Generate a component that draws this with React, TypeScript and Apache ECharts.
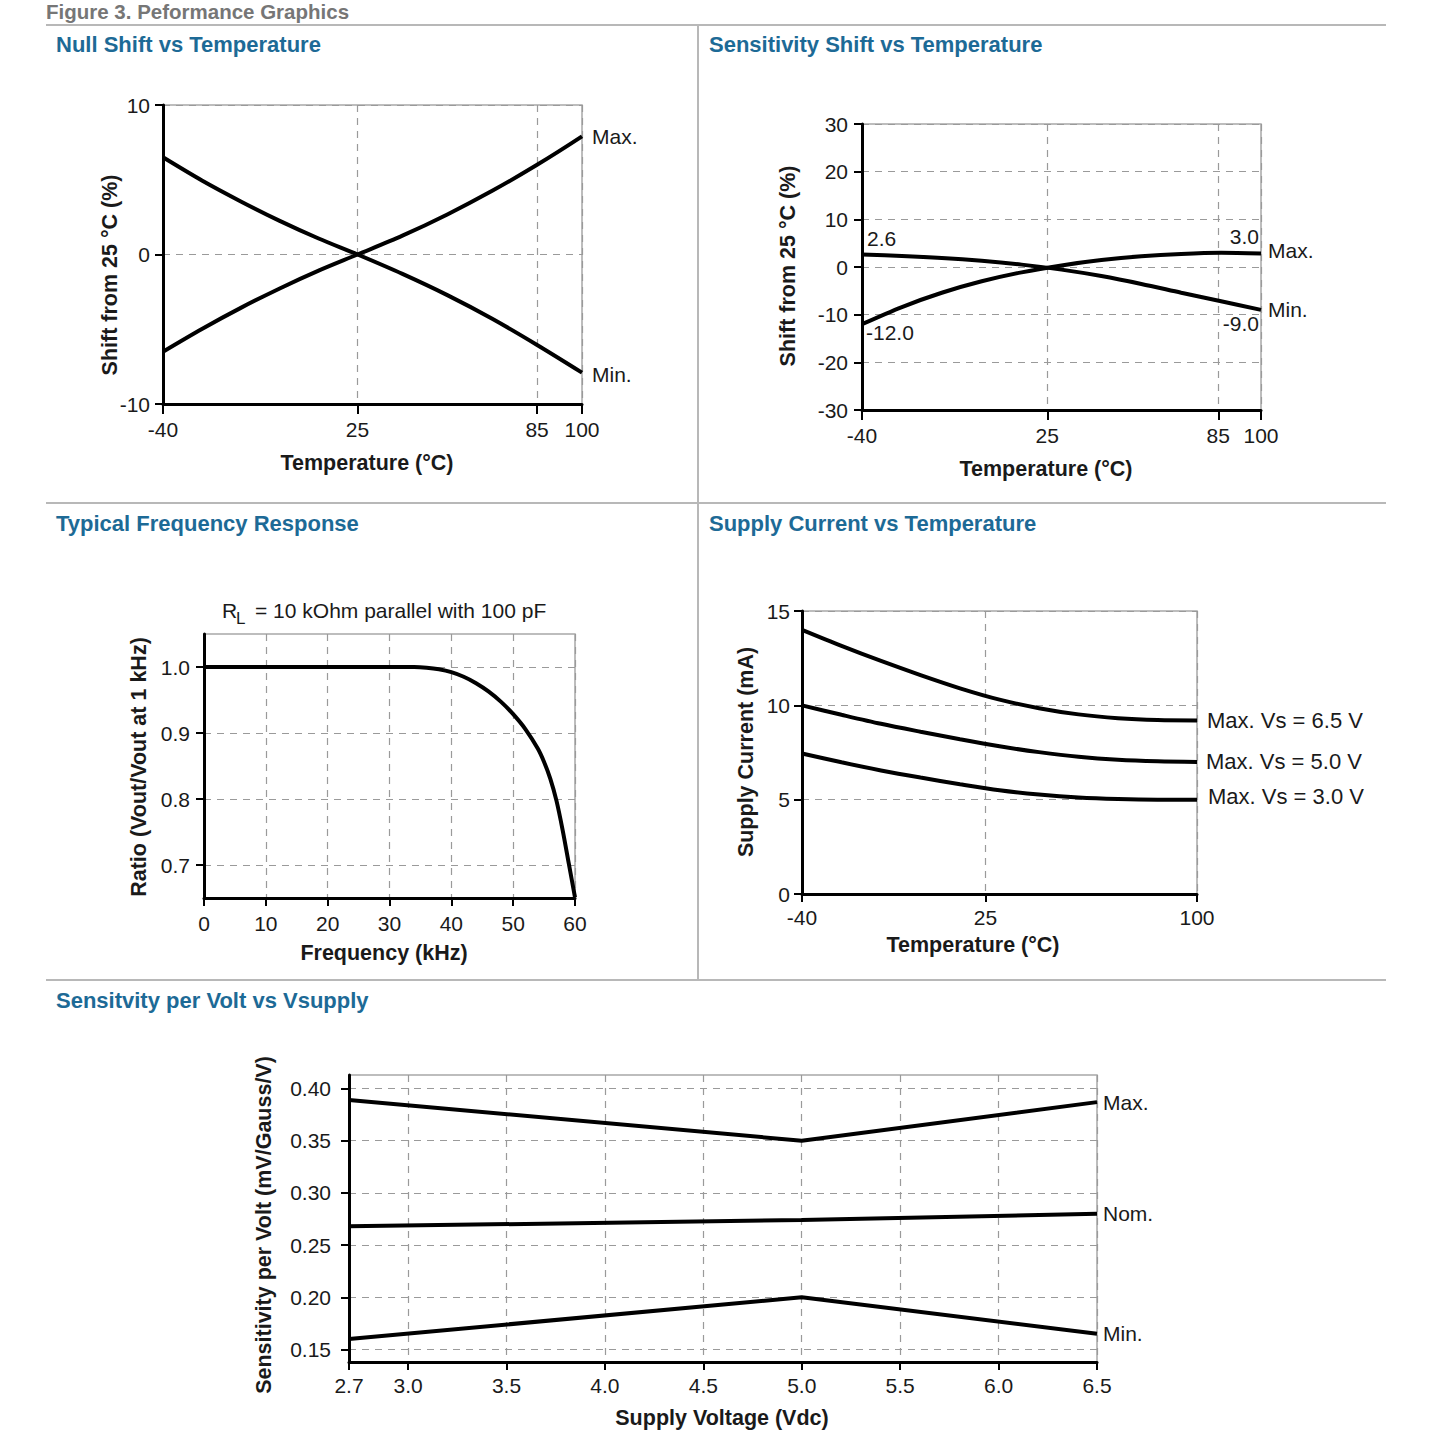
import React, { useEffect, useRef } from "react";
import * as echarts from "echarts";

const FONT = '"Liberation Sans", Arial, Helvetica, sans-serif';
const TXT = "#1a1a1a";
const BLUE = "#1d6a96";

// Panel 1: Null shift vs temperature
const nullTickX = [-40, 25, 85, 100];
const nullTickY = [-10, 0, 10];
const nullT = [-40, -27, -14, -1, 12, 25, 40, 55, 70, 85, 100];
const nullMax = [-6.5, -4.98, -3.57, -2.27, -1.08, 0, 1.26, 2.68, 4.26, 6.0, 7.9];
const nullMin = [6.5, 4.95, 3.55, 2.25, 1.07, 0, -1.3, -2.72, -4.3, -6.05, -7.9];

// Panel 2: Sensitivity shift vs temperature
const sensTickX = [-40, 25, 85, 100];
const sensTickY = [-30, -20, -10, 0, 10, 20, 30];
const sensT = [-40, -26, -12, 2, 16, 30, 44, 58, 72, 86, 100];
const sensMax = [-12.0, -8.4, -5.4, -3.0, -1.12, 0.33, 1.45, 2.25, 2.75, 2.99, 2.85];
const sensMin = [2.6, 2.32, 1.9, 1.3, 0.5, -0.55, -1.9, -3.55, -5.4, -7.2, -9.0];

// Panel 3: Typical frequency response
const freqTickX = [0, 10, 20, 30, 40, 50, 60];
const freqTickY = [0.7, 0.8, 0.9, 1.0];
const freqX = [0, 10, 20, 26, 30, 32, 34, 36, 38, 40, 42, 44, 46, 48, 50, 52, 54, 55, 56, 57, 58, 59, 60];
const freqY = [
  1, 1, 1, 1, 1, 1, 1.0, 0.999, 0.9966, 0.9922, 0.9852, 0.9755, 0.963, 0.9475, 0.9285, 0.9055, 0.876,
  0.856, 0.831, 0.7975, 0.753, 0.702, 0.651,
];

// Panel 4: Supply current vs temperature
const supTickX = [-40, 25, 100];
const supTickY = [0, 5, 10, 15];
const supT = [-40, -26, -12, 2, 16, 30, 44, 58, 72, 86, 100];
const sup65 = [14.0, 13.15, 12.35, 11.6, 10.9, 10.3, 9.85, 9.52, 9.32, 9.22, 9.2];
const sup50 = [10.0, 9.5, 9.02, 8.6, 8.2, 7.83, 7.52, 7.27, 7.11, 7.03, 7.0];
const sup30 = [7.45, 6.98, 6.55, 6.17, 5.82, 5.5, 5.27, 5.11, 5.03, 5.0, 5.0];

// Panel 5: Sensitivity per volt vs Vsupply
const voltTickX = [2.7, 3.0, 3.5, 4.0, 4.5, 5.0, 5.5, 6.0, 6.5];
const voltTickY = [0.15, 0.2, 0.25, 0.3, 0.35, 0.4];
const voltX = [2.7, 5.0, 6.5];
const voltMax = [0.389, 0.35, 0.387];
const voltNom = [0.268, 0.274, 0.28];
const voltMin = [0.16, 0.2, 0.165];

const pairs = (xs: number[], ys: number[]) => xs.map((x, i) => [x, ys[i]]);

function axis(
  gridIndex: number,
  min: number,
  max: number,
  ticks: number[],
  fmt: (v: number) => string,
  margin: number,
  tickLen: number
) {
  return {
    type: "value",
    gridIndex,
    min,
    max,
    axisLine: { show: true, onZero: false, lineStyle: { color: "#000", width: 3 } },
    axisTick: { show: true, customValues: ticks, length: tickLen, lineStyle: { color: "#000", width: 2 } },
    axisLabel: {
      show: true,
      customValues: ticks,
      formatter: fmt,
      margin,
      fontSize: 21,
      color: TXT,
      fontFamily: FONT,
    },
    splitLine: { show: true, lineStyle: { color: "#9a9a9a", width: 1.2, type: [7, 6] } },
  };
}

const intFmt = (v: number) => String(Math.round(v));
const f1 = (v: number) => v.toFixed(1);
const f2 = (v: number) => v.toFixed(2);

function grid(left: number, top: number, width: number, height: number) {
  return {
    left,
    top,
    width,
    height,
    show: true,
    borderColor: "#a8a8a8",
    borderWidth: 1.5,
    backgroundColor: "transparent",
    containLabel: false,
    outerBoundsMode: "none",
  };
}

function line(xi: number, data: number[][], label: string, smooth: number | boolean, extra: any = {}) {
  return {
    type: "line",
    xAxisIndex: xi,
    yAxisIndex: xi,
    data,
    smooth,
    showSymbol: false,
    silent: true,
    lineStyle: { color: "#000", width: 4 },
    endLabel: {
      show: label !== "",
      formatter: label,
      distance: 10,
      fontSize: 21,
      color: TXT,
      fontFamily: FONT,
      ...(extra.endLabel || {}),
    },
    ...(extra.series || {}),
  };
}

function text(x: number, y: number, s: string, o: any = {}) {
  const align = o.align || "left";
  return {
    type: "text",
    x,
    y,
    rotation: o.rotation || 0,
    style: {
      text: s,
      fontSize: o.fontSize || 21,
      fontWeight: o.fontWeight || "normal",
      fontFamily: FONT,
      fill: o.fill || TXT,
      align,
      textAlign: align,
      verticalAlign: "middle",
      textVerticalAlign: "middle",
    },
  };
}

function sep(x1: number, y1: number, x2: number, y2: number) {
  return { type: "line", shape: { x1, y1, x2, y2 }, style: { stroke: "#b8b8b8", lineWidth: 2 } };
}

export default function App() {
  const ref = useRef<HTMLDivElement>(null);
  useEffect(() => {
    if (!ref.current) return;
    const chart = echarts.init(ref.current, null, { renderer: "svg" });
    const titleO = { fontSize: 22, fontWeight: "bold", fill: BLUE };
    const axO = { fontSize: 21.5, fontWeight: "bold" };
    const rot = Math.PI / 2;
    chart.setOption({
      animation: false,
      backgroundColor: "#fff",
      grid: [
        grid(163, 105, 419, 299),
        grid(862, 124, 399, 286),
        grid(204, 634, 371, 264),
        grid(802, 611, 395, 283),
        grid(349, 1075, 748, 287),
      ],
      xAxis: [
        axis(0, -40, 100, nullTickX, intFmt, 15, 10),
        axis(1, -40, 100, sensTickX, intFmt, 15, 10),
        axis(2, 0, 60, freqTickX, intFmt, 15, 8),
        axis(3, -40, 100, supTickX, intFmt, 13, 8),
        axis(4, 2.7, 6.5, voltTickX, f1, 13, 8),
      ],
      yAxis: [
        axis(0, -10, 10, nullTickY, intFmt, 13, 8),
        axis(1, -30, 30, sensTickY, intFmt, 14, 8),
        axis(2, 0.65, 1.05, freqTickY, f1, 14, 8),
        axis(3, 0, 15, supTickY, intFmt, 12, 8),
        axis(4, 0.138, 0.413, voltTickY, f2, 18, 8),
      ],
      series: [
        line(0, pairs(nullT, nullMax), "Max.", 0.3),
        line(0, pairs(nullT, nullMin), "Min.", 0.3, { endLabel: { offset: [0, 2] } }),
        line(1, pairs(sensT, sensMax), "Max.", 0.3, { endLabel: { distance: 7, offset: [0, -3] } }),
        line(1, pairs(sensT, sensMin), "Min.", 0.3, { endLabel: { distance: 7 } }),
        line(2, pairs(freqX, freqY), "", 0.3),
        line(3, pairs(supT, sup65), "Max. Vs = 6.5 V", 0.3, { endLabel: { fontSize: 22 } }),
        line(3, pairs(supT, sup50), "Max. Vs = 5.0 V", 0.3, { endLabel: { fontSize: 22, distance: 9 } }),
        line(3, pairs(supT, sup30), "Max. Vs = 3.0 V", 0.3, {
          endLabel: { fontSize: 22, distance: 11, offset: [0, -3] },
        }),
        line(4, pairs(voltX, voltMax), "Max.", false, { endLabel: { distance: 6 } }),
        line(4, pairs(voltX, voltNom), "Nom.", false, { endLabel: { distance: 6 } }),
        line(4, pairs(voltX, voltMin), "Min.", false, { endLabel: { distance: 6 } }),
      ],
      graphic: [
        sep(46, 25, 1386, 25),
        sep(46, 503, 1386, 503),
        sep(46, 980, 1386, 980),
        sep(698, 25, 698, 980),
        text(46, 11, "Figure 3. Peformance Graphics", { fontSize: 20.5, fontWeight: "bold", fill: "#767676" }),
        text(56, 44, "Null Shift vs Temperature", titleO),
        text(709, 44, "Sensitivity Shift vs Temperature", titleO),
        text(56, 523, "Typical Frequency Response", titleO),
        text(709, 523, "Supply Current vs Temperature", titleO),
        text(56, 1000, "Sensitvity per Volt vs Vsupply", titleO),
        // axis titles
        text(367, 463, "Temperature (°C)", { ...axO, align: "center" }),
        text(110, 275, "Shift from 25 °C (%)", { ...axO, align: "center", rotation: rot }),
        text(1046, 469, "Temperature (°C)", { ...axO, align: "center" }),
        text(788, 266, "Shift from 25 °C (%)", { ...axO, align: "center", rotation: rot }),
        text(384, 953, "Frequency (kHz)", { ...axO, align: "center" }),
        text(139, 767, "Ratio (Vout/Vout at 1 kHz)", { ...axO, align: "center", rotation: rot }),
        text(973, 945, "Temperature (°C)", { ...axO, align: "center" }),
        text(746, 752, "Supply Current (mA)", { ...axO, align: "center", rotation: rot }),
        text(722, 1418, "Supply Voltage (Vdc)", { ...axO, align: "center" }),
        text(264, 1225, "Sensitivity per Volt (mV/Gauss/V)", { ...axO, align: "center", rotation: rot }),
        // panel 2 value annotations
        text(867, 238, "2.6"),
        text(866, 332, "-12.0"),
        text(1259, 236, "3.0", { align: "right" }),
        text(1259, 323, "-9.0", { align: "right" }),
        // panel 3 subtitle
        text(222, 610, "R"),
        text(236, 618, "L", { fontSize: 17 }),
        text(255, 610, "= 10 kOhm parallel with 100 pF"),
      ],
    });
    return () => chart.dispose();
  }, []);
  return (
    <div
      ref={ref}
      style={{ position: "fixed", left: 0, top: 0, width: 1431, height: 1431, background: "#fff" }}
    />
  );
}
